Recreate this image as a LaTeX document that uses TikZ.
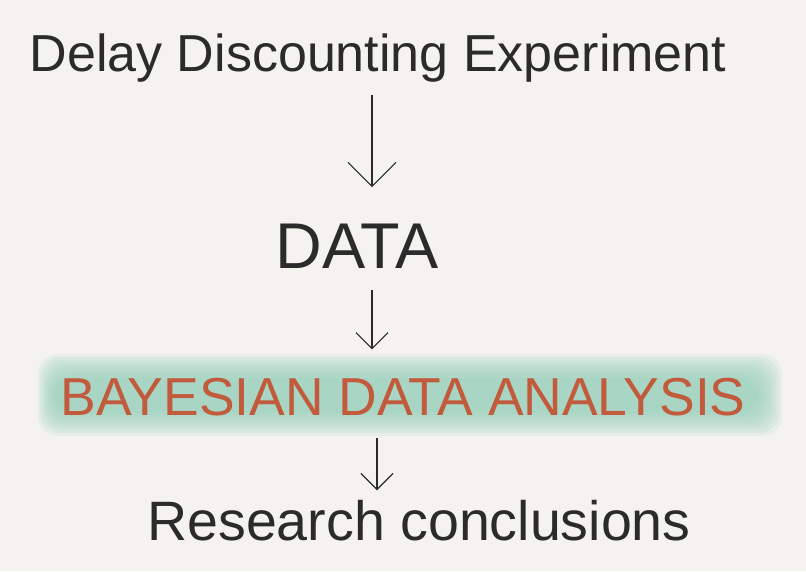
\documentclass[tikz,border=0pt]{standalone}
\usepackage{fontspec}
\setmainfont{Liberation Sans}
\usetikzlibrary{arrows.meta}
\definecolor{paper}{HTML}{F4F3EF}
\definecolor{ink}{HTML}{2B2B2B}
\definecolor{rust}{HTML}{C25A3C}
\definecolor{mint}{HTML}{8FCDB8}
\begin{document}
\begin{tikzpicture}[x=0.025cm, y=-0.025cm,
  lbl/.style={inner sep=0pt, anchor=base, text=ink},
  arr/.style={draw=ink, line width=0.8pt, -{Straight Barb[length=6mm, width=12mm, line width=0.8pt]}},
  arrsmall/.style={arr, -{Straight Barb[length=4mm, width=8mm, line width=0.8pt]}},
  wash/.style={fill=mint, opacity=0.13, rounded corners=14}]
  \fill[paper] (0,0) rectangle (806,571);
  % highlighter band behind the middle line
  \foreach \i in {0,...,8}
    \fill[wash] (38+2*\i,354+3*\i) rectangle (782-3*\i,436-3*\i);
  \node[lbl, font=\fontsize{37pt}{40pt}\selectfont] (title) at (378,72) {Delay Discounting Experiment};
  \node[lbl, font=\fontsize{46pt}{50pt}\selectfont] (data) at (357,268) {DATA};
  \node[lbl, text=rust, font=\fontsize{38pt}{42pt}\selectfont] (analysis) at (403,415) {BAYESIAN DATA ANALYSIS};
  \node[lbl, font=\fontsize{39.5pt}{43pt}\selectfont] (conclusions) at (419,540) {Research conclusions};
  \draw[arr, shorten <=3mm, shorten >=9mm] (title.south -| 372,0) -- (data.north -| 372,0);
  \draw[arrsmall, shorten <=5.5mm, shorten >=7mm] (data.south -| 372,0) -- (analysis.north -| 372,0);
  \draw[arrsmall, shorten <=5.5mm, shorten >=2.3mm] (analysis.south -| 377,0) -- (conclusions.north -| 377,0);
\end{tikzpicture}
\end{document}
